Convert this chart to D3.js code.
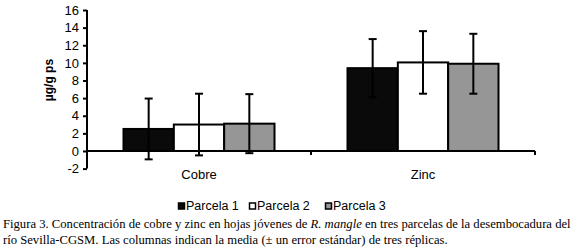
<!DOCTYPE html>
<html><head><meta charset="utf-8">
<script src="https://cdn.jsdelivr.net/npm/d3@7"></script>
<style>body{margin:0;background:#fff}svg{display:block}</style>
</head><body>
<script>
const categories = ["Cobre", "Zinc"];
const seriesNames = ["Parcela 1", "Parcela 2", "Parcela 3"];
const parcela1 = [2.5, 9.4];
const parcela2 = [3.0, 10.05];
const parcela3 = [3.1, 9.9];
const err1 = [3.45, 3.3];
const err2 = [3.5, 3.55];
const err3 = [3.35, 3.4];
const yTicks = [-2, 0, 2, 4, 6, 8, 10, 12, 14, 16];
const colors = ["#0a0a0a", "#ffffff", "#969696"];
const captionLines = [
  ["Figura 3. Concentración de cobre y zinc en hojas jóvenes de ", "R. mangle", " en tres parcelas de la desembocadura del"],
  ["río Sevilla-CGSM. Las columnas indican la media (± un error estándar) de tres réplicas."]
];

const series = [parcela1, parcela2, parcela3];
const errs = [err1, err2, err3];
const W = 575, H = 249;
const svg = d3.select("body").append("svg").attr("width", W).attr("height", H);

const x = d3.scaleBand().domain(categories).range([87, 535]).paddingInner(0).paddingOuter(0);
const y = d3.scaleLinear().domain([-2, 16]).range([168.6, 10]);
const xs = d3.scaleBand().domain(d3.range(3)).range([0, 151]);
const groupOffset = (x.bandwidth() - 151) / 2;

// y axis
const yAxis = svg.append("g").attr("transform", "translate(87,0)")
  .call(d3.axisLeft(y).tickValues(yTicks).tickSize(4).tickPadding(4).tickFormat(d => String(d)));
yAxis.select(".domain").attr("stroke", "#000").attr("stroke-width", 2).attr("d", `M0,${y(-2)}V${y(16)}`);
yAxis.selectAll(".tick line").attr("stroke", "#000").attr("stroke-width", 2);
yAxis.selectAll(".tick text").attr("font-family", "Arial, 'Liberation Sans', sans-serif").attr("font-size", 13).attr("fill", "#000");

// bars
categories.forEach((c, ci) => {
  series.forEach((s, si) => {
    const bx = x(c) + groupOffset + xs(si);
    const v = s[ci];
    svg.append("rect")
      .attr("x", bx).attr("width", xs.bandwidth())
      .attr("y", y(Math.max(0, v))).attr("height", Math.abs(y(v) - y(0)))
      .attr("fill", colors[si]).attr("stroke", "#000").attr("stroke-width", 2);
  });
});

// x axis at zero
const xAxisG = svg.append("g").attr("transform", `translate(0,${y(0)})`);
xAxisG.append("line").attr("x1", 87).attr("x2", 535).attr("stroke", "#000").attr("stroke-width", 2);
categories.map(c => x(c) + x.bandwidth()).forEach(px => {
  xAxisG.append("line").attr("x1", px).attr("x2", px).attr("y1", 0).attr("y2", 4).attr("stroke", "#000").attr("stroke-width", 2);
});
categories.forEach(c => {
  svg.append("text").attr("x", x(c) + x.bandwidth() / 2).attr("y", 179)
    .attr("text-anchor", "middle").attr("font-family", "Arial, 'Liberation Sans', sans-serif")
    .attr("font-size", 13).text(c);
});

// error bars
categories.forEach((c, ci) => {
  series.forEach((s, si) => {
    const cx = x(c) + groupOffset + xs(si) + xs.bandwidth() / 2;
    const v = s[ci], e = errs[si][ci];
    const g = svg.append("g").attr("stroke", "#000").attr("stroke-width", 2);
    g.append("line").attr("x1", cx).attr("x2", cx).attr("y1", y(v + e)).attr("y2", y(v - e));
    g.append("line").attr("x1", cx - 4).attr("x2", cx + 4).attr("y1", y(v + e)).attr("y2", y(v + e));
    g.append("line").attr("x1", cx - 4).attr("x2", cx + 4).attr("y1", y(v - e)).attr("y2", y(v - e));
  });
});

// y label
svg.append("text").attr("transform", "translate(53,80) rotate(-90)")
  .attr("text-anchor", "middle").attr("font-family", "Arial, 'Liberation Sans', sans-serif")
  .attr("font-size", 12).attr("font-weight", "bold").text("µg/g ps");

// legend
const legX = [178, 249, 325];
seriesNames.forEach((n, i) => {
  svg.append("rect").attr("x", legX[i] + 0.5).attr("y", 203).attr("width", 6).attr("height", 6)
    .attr("fill", colors[i]).attr("stroke", "#000").attr("stroke-width", 1.5);
  svg.append("text").attr("x", legX[i] + 8).attr("y", 210)
    .attr("font-family", "Arial, 'Liberation Sans', sans-serif").attr("font-size", 12.5).text(n);
});

// caption
captionLines.forEach((parts, li) => {
  const t = svg.append("text").attr("x", 3).attr("y", 228 + li * 16)
    .attr("font-family", "'Liberation Serif', 'Times New Roman', serif").attr("font-size", 12.65);
  parts.forEach((p, pi) => {
    const ts = t.append("tspan").text(p);
    if (li === 0 && pi === 1) ts.attr("font-style", "italic");
  });
});
</script>
</body></html>
